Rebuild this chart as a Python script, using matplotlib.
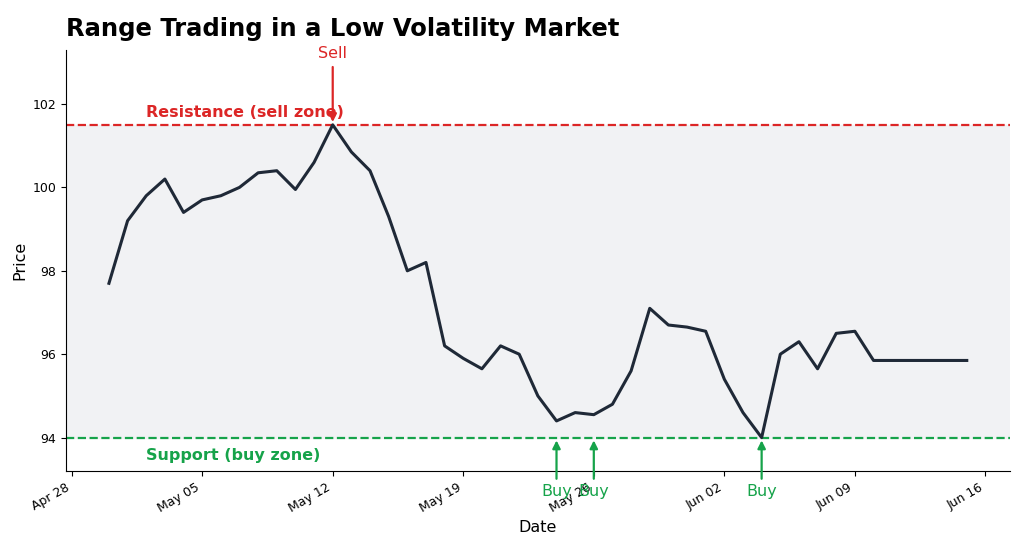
import pandas as pd
import matplotlib
matplotlib.use("Agg")
import matplotlib.pyplot as plt
import matplotlib.dates as mdates

dates = pd.date_range("2024-04-30", "2024-06-15", freq="D")
prices = [
    97.7, 99.2, 99.8, 100.2, 99.4, 99.7, 99.8, 100.0, 100.35, 100.4,
    99.95, 100.6, 101.5, 100.85, 100.4, 99.3, 98.0, 98.2, 96.2, 95.9,
    95.65, 96.2, 96.0, 95.0, 94.4, 94.6, 94.55, 94.8, 95.6, 97.1,
    96.7, 96.65, 96.55, 95.4, 94.6, 94.0, 96.0, 96.3, 95.65, 96.5,
    96.55, 95.85, 95.85, 95.85, 95.85, 95.85, 95.85,
]
resistance = 101.5
support = 94.0
sell_dates = ["2024-05-12"]
buy_dates = ["2024-05-24", "2024-05-26", "2024-06-04"]

red = "#dc2626"
green = "#16a34a"

fig = plt.figure(figsize=(10.24, 5.47), dpi=100)
ax = fig.add_axes([0.0645, 0.139, 0.9215, 0.77])

ax.axhspan(support, resistance, color="#f1f2f4", zorder=0)
ax.axhline(resistance, color=red, ls="--", lw=1.6)
ax.axhline(support, color=green, ls="--", lw=1.6)
ax.plot(dates, prices, color="#1f2937", lw=2.2)

for d in sell_dates:
    d = pd.Timestamp(d)
    ax.annotate("Sell", xy=(d, resistance), xytext=(d, 103.2),
                ha="center", va="center", color=red, fontsize=11.5,
                arrowprops=dict(arrowstyle="-|>", color=red, lw=1.6))
for d in buy_dates:
    d = pd.Timestamp(d)
    ax.annotate("Buy", xy=(d, support), xytext=(d, 92.7),
                ha="center", va="center", color=green, fontsize=11.5,
                annotation_clip=False,
                arrowprops=dict(arrowstyle="-|>", color=green, lw=1.6))

ax.text(pd.Timestamp("2024-05-02"), 101.8, "Resistance (sell zone)",
        color=red, fontsize=11.5, fontweight="bold", va="center")
ax.text(pd.Timestamp("2024-05-02"), 93.57, "Support (buy zone)",
        color=green, fontsize=11.5, fontweight="bold", va="center")

ax.set_ylim(93.2, 103.3)
ax.set_yticks([94, 96, 98, 100, 102])
ax.xaxis.set_major_locator(mdates.WeekdayLocator(byweekday=mdates.SU))
ax.xaxis.set_major_formatter(mdates.DateFormatter("%b %d"))
ax.tick_params(labelsize=9)
plt.setp(ax.get_xticklabels(), rotation=30, ha="right")

ax.spines["top"].set_visible(False)
ax.spines["right"].set_visible(False)
ax.set_xlabel("Date", fontsize=11.5)
ax.set_ylabel("Price", fontsize=11.5)
ax.set_title("Range Trading in a Low Volatility Market", loc="left",
             fontsize=17.5, fontweight="bold", pad=10)

fig.savefig("out.png", dpi=100)
